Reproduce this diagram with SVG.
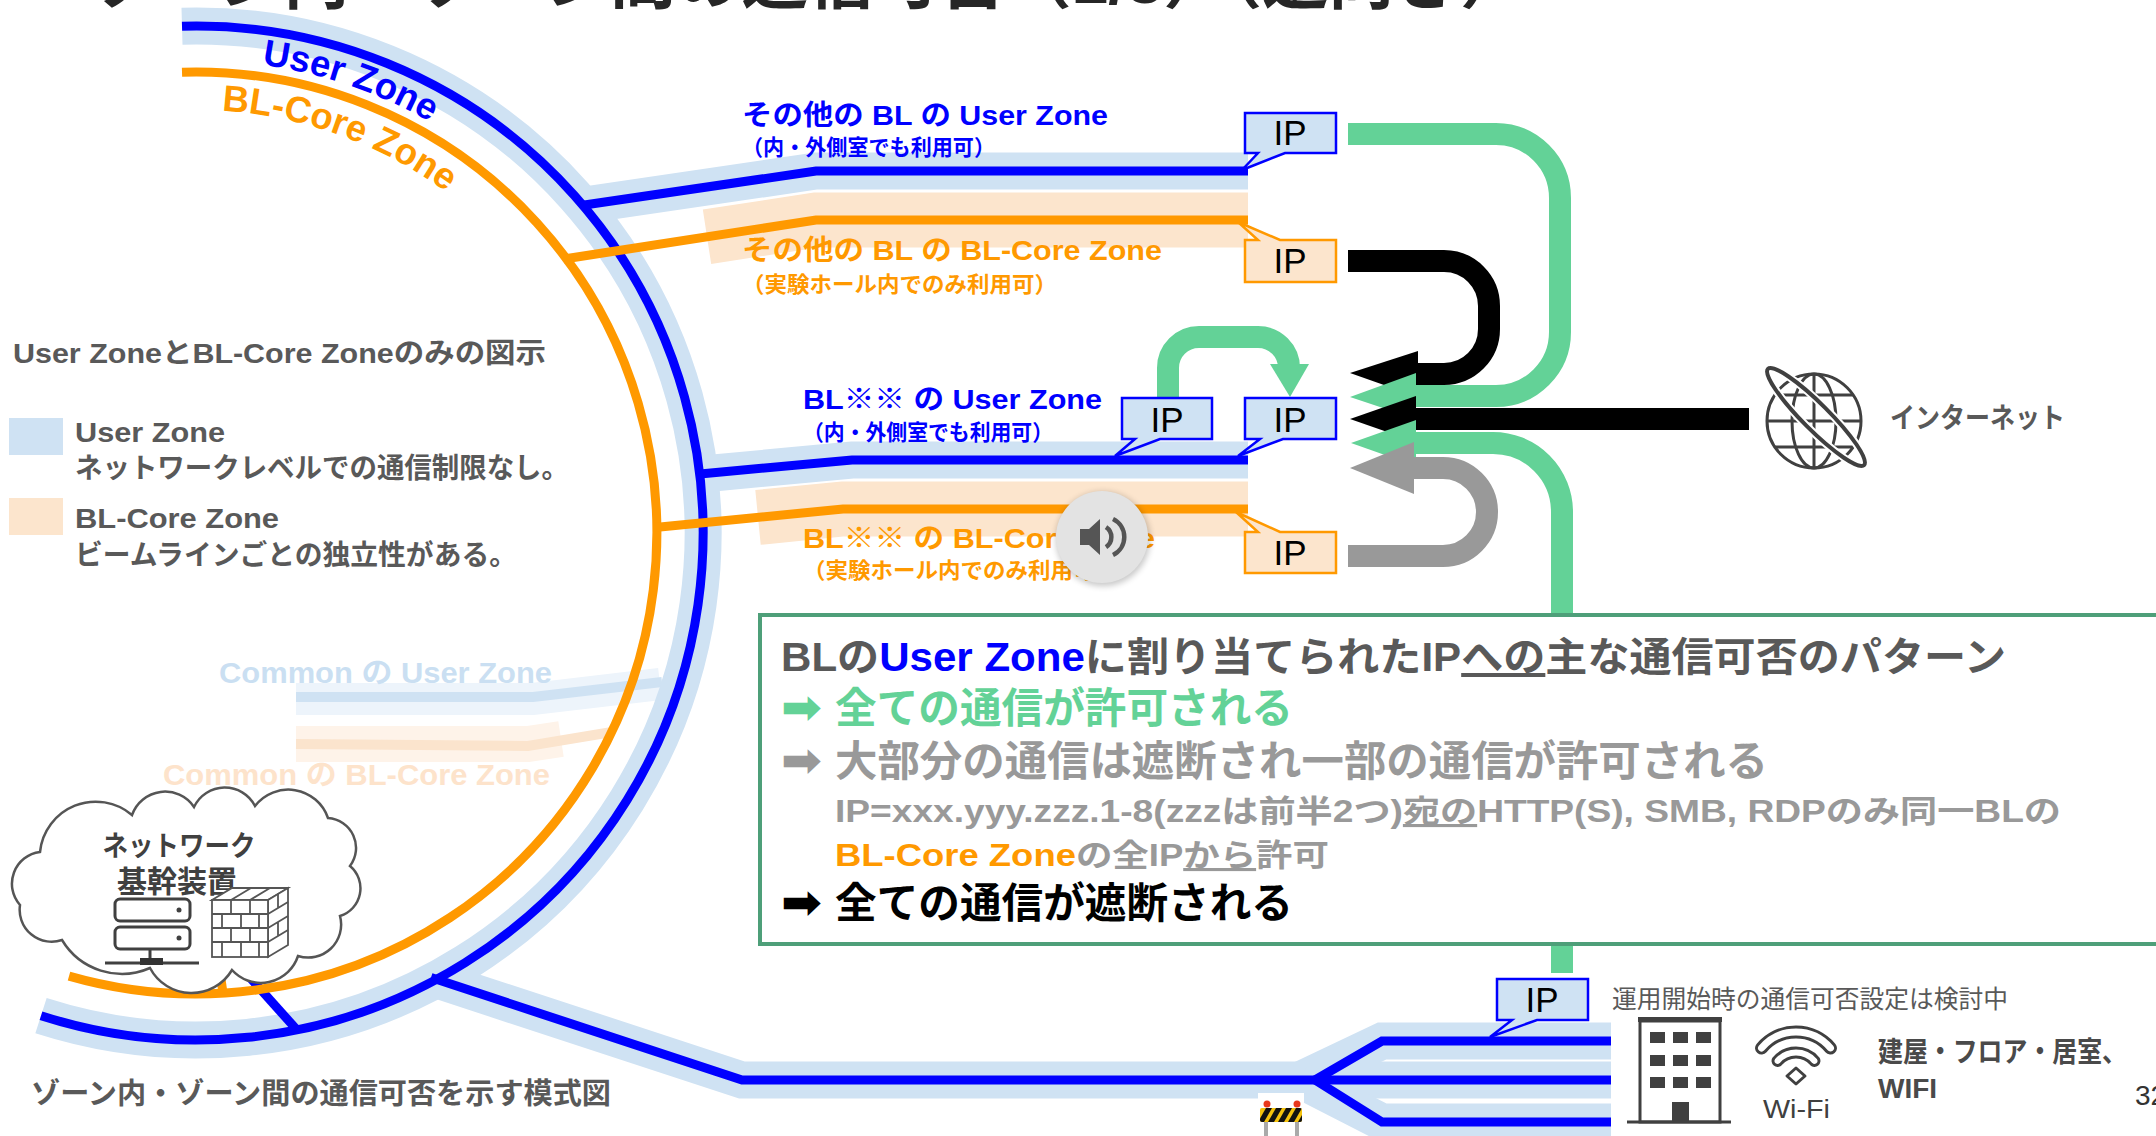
<svg xmlns="http://www.w3.org/2000/svg" width="2156" height="1136" viewBox="0 0 2156 1136">
  <defs>
    <style>
      text { font-family: "Liberation Sans", "Noto Sans CJK JP", sans-serif; }
      .b { font-weight: bold; }
      .band-u { fill: none; stroke: #cfe2f3; stroke-width: 37; }
      .band-c { fill: none; stroke: #fce5cd; stroke-width: 55; }
      .ln-u { fill: none; stroke: #0000ff; stroke-width: 9; }
      .ln-c { fill: none; stroke: #ff9900; stroke-width: 9; }
      .ip-u { fill: #cfe2f3; stroke: #0000ff; stroke-width: 2.5; }
      .ip-c { fill: #fce5cd; stroke: #ff9900; stroke-width: 2.5; }
      .ip-t { font-size: 35px; fill: #000; text-anchor: middle; }
      .shaft { fill: none; stroke-width: 22; }
      .grey { fill: #595959; }
      .icon { fill: none; stroke: #404040; stroke-width: 3; }
      .arrowsym { font-family: "DejaVu Sans", "Noto Sans Symbols 2", sans-serif; font-size: 46px; font-weight: bold; }
    </style>
    <filter id="soft" x="-50%" y="-50%" width="200%" height="200%">
      <feGaussianBlur stdDeviation="3"/>
    </filter>
    <clipPath id="boardClip">
      <rect x="1260" y="1108" width="42" height="14" rx="2"/>
    </clipPath>
  </defs>

  <rect width="2156" height="1136" fill="#fff"/>

  <!-- page title (mostly above the visible area) -->
  <g id="title">
    <text x="89" y="3" class="b" font-size="66" fill="#262626" textLength="1437" lengthAdjust="spacingAndGlyphs">ゾーン内・ゾーン間の通信可否（1/3）（逆向き）</text>
  </g>

  <!-- common zone (faded) -->
  <g id="common-zones">
    <polyline points="296,699 533,699 660,684" fill="none" stroke="#edf4fb" stroke-width="32"/>
    <polyline points="296,697 533,697 662,682" fill="none" stroke="#cfe2f3" stroke-width="10"/>
    <polyline points="296,744 528,744 561,739" fill="none" stroke="#fef3e9" stroke-width="36"/>
    <polyline points="296,744 528,746 612,732" fill="none" stroke="#fbe4cd" stroke-width="10"/>
    <text x="219" y="683" class="b" font-size="29" fill="#cadff2" textLength="333" lengthAdjust="spacingAndGlyphs">Common の User Zone</text>
    <text x="163" y="785" class="b" font-size="29" fill="#fde3cb" textLength="387" lengthAdjust="spacingAndGlyphs">Common の BL-Core Zone</text>
  </g>

  <!-- connectors: zone ring, branches, arrows -->
  <g id="connectors">
    <!-- light bands -->
    <path class="band-u" d="M182,26.2 A507,507 0 1 1 41,1015.7"/>
    <polyline class="band-u" points="578,206 816,171 1248,171"/>
    <polyline class="band-u" points="692,475 852,460 1248,460"/>
    <polyline class="band-u" points="431,978 742,1080 1315,1080"/>
    <polyline class="band-u" points="1300,1080 1382,1041 1611,1041"/>
    <polyline class="band-u" points="1315,1080 1611,1080"/>
    <polyline class="band-u" points="1300,1080 1382,1122 1611,1122"/>
    <polyline class="band-c" points="707,236.8 816,220 1248,220"/>
    <polyline class="band-c" points="758,517.4 843,509 1248,509"/>

    <!-- User Zone lines -->
    <path class="ln-u" d="M182,26.2 A507,507 0 1 1 41,1015.7"/>
    <polyline class="ln-u" points="581,205.5 816,171 1248,171"/>
    <polyline class="ln-u" points="700,474 852,460 1248,460"/>
    <polyline class="ln-u" points="431,977.5 742,1080 1315,1080"/>
    <polyline class="ln-u" points="1315,1080 1382,1041 1611,1041"/>
    <polyline class="ln-u" points="1315,1080 1611,1080"/>
    <polyline class="ln-u" points="1315,1080 1382,1122 1611,1122"/>
    <line class="ln-u" x1="236" y1="962" x2="297" y2="1030" stroke-width="8"/>

    <!-- BL-Core Zone lines -->
    <path class="ln-c" d="M182,72.2 A461,461 0 1 1 69,976.2"/>
    <polyline class="ln-c" points="564,259 816,220 1248,220"/>
    <polyline class="ln-c" points="655,527.5 843,509 1248,509"/>
    <line class="ln-c" x1="219" y1="966" x2="223" y2="993" stroke-width="8"/>

    <!-- ring labels -->
    <path id="arcUser" d="M261.8,64.6 A473,473 0 0 1 605.6,296.5" fill="none"/>
    <path id="arcCore" d="M221.8,110.8 A423,423 0 0 1 562.3,321.5" fill="none"/>
    <text class="b" font-size="37" fill="#0000ff"><textPath href="#arcUser" textLength="179" lengthAdjust="spacingAndGlyphs">User Zone</textPath></text>
    <text class="b" font-size="37" fill="#ff9900"><textPath href="#arcCore" textLength="242" lengthAdjust="spacingAndGlyphs">BL-Core Zone</textPath></text>

    <!-- permission arrows -->
    <path class="shaft" stroke="#63d297" stroke-width="24" d="M1168,398 V368 A31,31 0 0 1 1199,337 H1258 A31,31 0 0 1 1289,368 V366"/>
    <polygon fill="#63d297" points="1270,364 1309,364 1290,397"/>

    <path class="shaft" stroke="#000" d="M1348,261 H1444 A45,45 0 0 1 1489,306 V329 A45,45 0 0 1 1444,374 H1410"/>
    <polygon fill="#000" points="1418,351 1350,373 1418,397"/>

    <path class="shaft" stroke="#63d297" d="M1348,134 H1496 A64,64 0 0 1 1560,198 V332 A64,64 0 0 1 1496,396 H1410"/>
    <polygon fill="#63d297" points="1416,373 1350,397 1416,419"/>

    <path class="shaft" stroke="#000" d="M1749,419 H1410"/>
    <polygon fill="#000" points="1416,396 1350,419 1416,442"/>

    <path class="shaft" stroke="#63d297" d="M1562,973 V512 A69,69 0 0 0 1493,443 H1410"/>
    <polygon fill="#63d297" points="1416,420 1351,443 1416,466"/>

    <path class="shaft" stroke="#999999" d="M1348,556 H1443 A44,44 0 0 0 1487,512 A44,44 0 0 0 1443,468 H1410"/>
    <polygon fill="#999999" points="1414,442 1350,468 1414,494"/>
  </g>

  <!-- zone labels on branches -->
  <g id="branch-labels">
    <text x="742" y="125" class="b" font-size="28" fill="#0000ff" textLength="366" lengthAdjust="spacingAndGlyphs">その他の BL の User Zone</text>
    <text x="742" y="155" class="b" font-size="22" fill="#0000ff" textLength="253" lengthAdjust="spacingAndGlyphs">（内・外側室でも利用可）</text>
    <text x="742" y="260" class="b" font-size="28" fill="#ff9900" textLength="420" lengthAdjust="spacingAndGlyphs">その他の BL の BL-Core Zone</text>
    <text x="742" y="292" class="b" font-size="22" fill="#ff9900" textLength="315" lengthAdjust="spacingAndGlyphs">（実験ホール内でのみ利用可）</text>
    <text x="803" y="409" class="b" font-size="28" fill="#0000ff" textLength="299" lengthAdjust="spacingAndGlyphs">BL※※ の User Zone</text>
    <text x="803" y="440" class="b" font-size="22" fill="#0000ff" textLength="250" lengthAdjust="spacingAndGlyphs">（内・外側室でも利用可）</text>
    <text x="803" y="548" class="b" font-size="28" fill="#ff9900" textLength="352" lengthAdjust="spacingAndGlyphs">BL※※ の BL-Core Zone</text>
    <text x="803" y="578" class="b" font-size="22" fill="#ff9900" textLength="315" lengthAdjust="spacingAndGlyphs">（実験ホール内でのみ利用可）</text>
  </g>

  <!-- audio button -->
  <g id="audio-button">
    <circle cx="1103" cy="539" r="47" fill="#000" opacity="0.22" filter="url(#soft)"/>
    <circle cx="1102" cy="537" r="46" fill="#e3e3e3"/>
    <polygon fill="#555" points="1080,529 1089,529 1100,519 1100,555 1089,545 1080,545"/>
    <path d="M1106,527 A12,12 0 0 1 1106,547" fill="none" stroke="#555" stroke-width="4.5"/>
    <path d="M1113,519 A20,20 0 0 1 1113,555" fill="none" stroke="#555" stroke-width="4.5"/>
  </g>

  <!-- IP address callouts -->
  <g id="ip-other-user">
    <path class="ip-u" d="M1245,113 H1336 V153 H1285 L1242,170 L1258,153 H1245 Z"/>
    <text x="1290" y="145" class="ip-t">IP</text>
  </g>
  <g id="ip-other-core">
    <path class="ip-c" d="M1245,240 H1258 L1238,222 L1280,240 H1336 V282 H1245 Z"/>
    <text x="1290" y="273" class="ip-t">IP</text>
  </g>
  <g id="ip-bl-user-1">
    <path class="ip-u" d="M1122,398 H1212 V439 H1160 L1115,456 L1135,439 H1122 Z"/>
    <text x="1167" y="432" class="ip-t">IP</text>
  </g>
  <g id="ip-bl-user-2">
    <path class="ip-u" d="M1245,398 H1336 V439 H1283 L1238,456 L1260,439 H1245 Z"/>
    <text x="1290" y="432" class="ip-t">IP</text>
  </g>
  <g id="ip-bl-core">
    <path class="ip-c" d="M1245,532 H1258 L1236,512 L1280,532 H1336 V573 H1245 Z"/>
    <text x="1290" y="565" class="ip-t">IP</text>
  </g>
  <g id="ip-building">
    <path class="ip-u" d="M1497,979 H1588 V1020 H1537 L1490,1037 L1512,1020 H1497 Z"/>
    <text x="1542" y="1012" class="ip-t">IP</text>
  </g>

  <!-- internet -->
  <g id="internet">
    <circle cx="1814" cy="421" r="47" class="icon" stroke-width="4"/>
    <ellipse cx="1814" cy="421" rx="22" ry="47" class="icon"/>
    <line x1="1814" y1="374" x2="1814" y2="468" class="icon"/>
    <line x1="1775" y1="395" x2="1853" y2="395" class="icon"/>
    <line x1="1767" y1="421" x2="1861" y2="421" class="icon"/>
    <line x1="1775" y1="447" x2="1853" y2="447" class="icon"/>
    <ellipse cx="1816" cy="417" rx="68" ry="13" transform="rotate(45 1816 417)" fill="none" stroke="#fff" stroke-width="8"/>
    <ellipse cx="1816" cy="417" rx="68" ry="13" transform="rotate(45 1816 417)" fill="none" stroke="#404040" stroke-width="4"/>
    <text x="1890" y="428" class="b grey" font-size="28" textLength="175" lengthAdjust="spacingAndGlyphs">インターネット</text>
  </g>

  <!-- legend -->
  <g id="legend">
    <text x="13" y="363" class="b grey" font-size="28" textLength="533" lengthAdjust="spacingAndGlyphs">User ZoneとBL-Core Zoneのみの図示</text>
    <rect x="9" y="418" width="54" height="37" fill="#cfe2f3"/>
    <text x="75" y="442" class="b grey" font-size="28" textLength="150" lengthAdjust="spacingAndGlyphs">User Zone</text>
    <text x="75" y="478" class="b grey" font-size="28" textLength="494" lengthAdjust="spacingAndGlyphs">ネットワークレベルでの通信制限なし。</text>
    <rect x="9" y="498" width="54" height="37" fill="#fce5cd"/>
    <text x="75" y="528" class="b grey" font-size="28" textLength="204" lengthAdjust="spacingAndGlyphs">BL-Core Zone</text>
    <text x="75" y="565" class="b grey" font-size="28" textLength="442" lengthAdjust="spacingAndGlyphs">ビームラインごとの独立性がある。</text>
  </g>

  <!-- core network equipment -->
  <g id="core-network">
    <path d="M40,852 A56,56 0 0 1 132,815 A35,35 0 0 1 194,807 A34,34 0 0 1 255,806 A42,42 0 0 1 328,818 A30,30 0 0 1 350,866 A29,29 0 0 1 340,916 A33,33 0 0 1 298,956 A39,39 0 0 1 232,970 A47,47 0 0 1 150,968 A70,70 0 0 1 62,940 A32,32 0 0 1 20,905 A32,32 0 0 1 40,852 Z" fill="#fff" stroke="#555" stroke-width="2.5"/>
    <text x="179" y="856" class="b" font-size="28" fill="#404040" text-anchor="middle" textLength="153" lengthAdjust="spacingAndGlyphs">ネットワーク</text>
    <text x="177" y="892" class="b" font-size="30" fill="#404040" text-anchor="middle" textLength="120" lengthAdjust="spacingAndGlyphs">基幹装置</text>
    <!-- server -->
    <rect x="115" y="899" width="75" height="22" rx="5" class="icon" stroke-width="2.5"/>
    <rect x="115" y="927" width="75" height="22" rx="5" class="icon" stroke-width="2.5"/>
    <circle cx="179" cy="910" r="2.5" fill="#404040"/>
    <circle cx="179" cy="938" r="2.5" fill="#404040"/>
    <line x1="150" y1="949" x2="150" y2="960" class="icon" stroke-width="2"/>
    <line x1="105" y1="963" x2="199" y2="963" class="icon" stroke-width="2"/>
    <rect x="140" y="958" width="23" height="7" fill="#333"/>
    <!-- firewall -->
    <g fill="#fff" stroke="#555" stroke-width="1.8">
      <polygon points="212,900 232,888 288,888 268,900"/>
      <polygon points="268,900 288,888 288,945 268,957"/>
      <rect x="212" y="900" width="56" height="57"/>
      <path d="M212,914 H268 M212,928 H268 M212,942 H268 M231,900 V914 M250,900 V914 M222,914 V928 M241,914 V928 M259,914 V928 M231,928 V942 M250,928 V942 M222,942 V957 M241,942 V957 M259,942 V957 M268,914 L288,902 M268,928 L288,916 M268,942 L288,930 M278,894 V908 M278,922 V936 M251,888 L231,900 M270,888 L250,900" fill="none"/>
    </g>
  </g>

  <!-- access permission summary -->
  <g id="summary-box">
    <rect x="760" y="615" width="1500" height="329" fill="#fff" stroke="#4e9f79" stroke-width="4"/>
    <text x="781" y="671" class="b" font-size="40" textLength="1225" lengthAdjust="spacingAndGlyphs"><tspan fill="#595959">BLの</tspan><tspan fill="#0000ff">User Zone</tspan><tspan fill="#595959">に割り当てられたIP</tspan><tspan fill="#595959" text-decoration="underline">への</tspan><tspan fill="#595959">主な通信可否のパターン</tspan></text>
    <text x="781" y="723" class="arrowsym" fill="#63d297" textLength="41" lengthAdjust="spacingAndGlyphs">➡</text>
    <text x="835" y="723" class="b" font-size="42" fill="#63d297" textLength="458" lengthAdjust="spacingAndGlyphs">全ての通信が許可される</text>
    <text x="781" y="776" class="arrowsym" fill="#999999" textLength="41" lengthAdjust="spacingAndGlyphs">➡</text>
    <text x="835" y="776" class="b" font-size="42" fill="#999999" textLength="933" lengthAdjust="spacingAndGlyphs">大部分の通信は遮断され一部の通信が許可される</text>
    <text x="835" y="822" class="b" font-size="31" fill="#999999" textLength="1226" lengthAdjust="spacingAndGlyphs">IP=xxx.yyy.zzz.1-8(zzzは前半2つ)<tspan text-decoration="underline">宛の</tspan>HTTP(S), SMB, RDPのみ同一BLの</text>
    <text x="835" y="866" class="b" font-size="31" fill="#999999" textLength="494" lengthAdjust="spacingAndGlyphs"><tspan fill="#ff9900">BL-Core Zone</tspan>の全IP<tspan text-decoration="underline">から</tspan>許可</text>
    <text x="781" y="918" class="arrowsym" fill="#000" textLength="41" lengthAdjust="spacingAndGlyphs">➡</text>
    <text x="835" y="918" class="b" font-size="42" fill="#000" textLength="458" lengthAdjust="spacingAndGlyphs">全ての通信が遮断される</text>
  </g>

  <!-- road barrier -->
  <g id="barrier">
    <rect x="1258" y="1093" width="46" height="43" fill="#fff"/>
    <rect x="1264" y="1120" width="4" height="16" fill="#aaa"/>
    <rect x="1295" y="1120" width="4" height="16" fill="#aaa"/>
    <rect x="1260" y="1108" width="42" height="14" rx="2" fill="#f4c20d"/>
    <g clip-path="url(#boardClip)" fill="#111">
      <polygon points="1258,1122 1264,1122 1272,1108 1266,1108"/>
      <polygon points="1268,1122 1274,1122 1282,1108 1276,1108"/>
      <polygon points="1278,1122 1284,1122 1292,1108 1286,1108"/>
      <polygon points="1288,1122 1294,1122 1302,1108 1296,1108"/>
      <polygon points="1298,1122 1304,1122 1312,1108 1306,1108"/>
    </g>
    <circle cx="1267" cy="1104" r="3.5" fill="#e8381d"/>
    <circle cx="1297" cy="1104" r="3.5" fill="#e8381d"/>
  </g>

  <!-- building and Wi-Fi -->
  <g id="building-wifi">
    <text x="1612" y="1008" font-size="24.5" fill="#595959" textLength="396" lengthAdjust="spacingAndGlyphs">運用開始時の通信可否設定は検討中</text>
    <rect x="1640" y="1021" width="80" height="101" class="icon"/>
    <rect x="1638" y="1017" width="84" height="5" fill="#404040"/>
    <line x1="1627" y1="1122" x2="1731" y2="1122" class="icon"/>
    <g fill="#404040">
      <rect x="1650" y="1032" width="15" height="11"/><rect x="1673" y="1032" width="15" height="11"/><rect x="1696" y="1032" width="15" height="11"/>
      <rect x="1650" y="1055" width="15" height="11"/><rect x="1673" y="1055" width="15" height="11"/><rect x="1696" y="1055" width="15" height="11"/>
      <rect x="1650" y="1077" width="15" height="11"/><rect x="1673" y="1077" width="15" height="11"/><rect x="1696" y="1077" width="15" height="11"/>
      <rect x="1672" y="1102" width="17" height="20"/>
    </g>
    <path class="icon" stroke-width="2.5" stroke-linejoin="round" d="M1757.7,1044.9 A50,50 0 0 1 1834.3,1044.9 A5,5 0 0 1 1826.6,1051.3 A40,40 0 0 0 1765.4,1051.3 A5,5 0 0 1 1757.7,1044.9 Z"/>
    <path class="icon" stroke-width="2.5" stroke-linejoin="round" d="M1773.8,1058.4 A29,29 0 0 1 1818.2,1058.4 A4.5,4.5 0 0 1 1811.3,1064.1 A20,20 0 0 0 1780.7,1064.1 A4.5,4.5 0 0 1 1773.8,1058.4 Z"/>
    <polygon class="icon" stroke-width="2.5" stroke-linejoin="round" points="1796,1068 1805,1076 1796,1084 1787,1076"/>
    <text x="1763" y="1118" font-size="25" fill="#404040" textLength="67" lengthAdjust="spacingAndGlyphs">Wi-Fi</text>
    <text x="1878" y="1062" class="b" font-size="28" fill="#4a4a4a" textLength="249" lengthAdjust="spacingAndGlyphs">建屋・フロア・居室、</text>
    <text x="1878" y="1098" class="b" font-size="28" fill="#4a4a4a">WIFI</text>
  </g>

  <!-- caption and page number -->
  <g id="caption">
    <text x="31" y="1104" class="b grey" font-size="29" textLength="580" lengthAdjust="spacingAndGlyphs">ゾーン内・ゾーン間の通信可否を示す模式図</text>
    <text x="2135" y="1105" font-size="28" fill="#333">32</text>
  </g>
</svg>
